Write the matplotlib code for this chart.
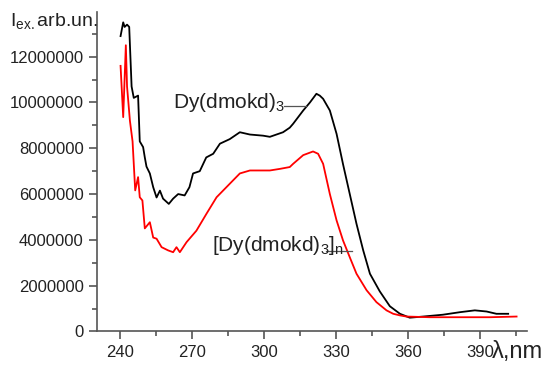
import matplotlib
matplotlib.use('Agg')
import matplotlib.pyplot as plt
from matplotlib.ticker import MultipleLocator

plt.rcParams['font.family'] = ['Liberation Sans', 'DejaVu Sans']
plt.rcParams['mathtext.default'] = 'regular'

# excitation spectra (nm, arb. units)
wl_mono = [240.3, 241.4, 242.0, 243.0, 243.9, 244.9, 245.8, 247.6, 248.3, 249.7,
           250.4, 251.1, 252.5, 253.9, 255.3, 256.7, 258.0, 260.4, 262.2, 264.3,
           267.0, 269.0, 270.5, 273.3, 276.0, 278.9, 281.7, 285.8, 290.0, 294.2,
           299.7, 302.5, 308.0, 310.8, 312.2, 316.4, 319.2, 321.9, 323.3, 324.7,
           327.5, 330.3, 333.0, 335.8, 338.6, 341.4, 344.2, 348.3, 352.5, 356.7,
           360.8, 366.4, 374.6, 381.7, 387.9, 392.8, 396.9, 401.8]
i_mono = [12.9, 13.5, 13.3, 13.4, 13.3, 10.7, 10.2, 10.3, 8.3, 8.05,
          7.6, 7.2, 6.9, 6.3, 5.85, 6.15, 5.8, 5.57, 5.8, 6.0,
          5.94, 6.3, 6.9, 7.0, 7.6, 7.76, 8.2, 8.4, 8.7, 8.6,
          8.55, 8.5, 8.7, 8.9, 9.07, 9.65, 10.0, 10.38, 10.3, 10.16,
          9.65, 8.63, 7.3, 6.0, 4.7, 3.54, 2.52, 1.75, 1.1, 0.77,
          0.6, 0.65, 0.73, 0.84, 0.92, 0.87, 0.77, 0.77]

wl_poly = [240.3, 241.4, 242.5, 243.0, 244.2, 245.3, 246.4, 247.6, 248.3, 249.4,
           250.4, 252.5, 253.9, 255.3, 257.4, 260.1, 262.2, 263.6, 265.0, 267.8,
           271.9, 276.1, 280.3, 285.8, 290.0, 294.2, 302.5, 306.7, 310.8, 312.2,
           316.4, 320.5, 322.6, 324.7, 327.5, 330.3, 333.0, 335.8, 338.6, 342.8,
           346.9, 351.1, 353.9, 356.7, 359.4, 369.2, 383.0, 394.2, 405.3]
i_poly = [11.6, 9.36, 12.5, 10.7, 9.2, 8.3, 6.16, 6.74, 5.86, 5.72,
          4.5, 4.77, 4.1, 4.05, 3.68, 3.54, 3.46, 3.68, 3.46, 3.9,
          4.4, 5.14, 5.86, 6.45, 6.9, 7.03, 7.03, 7.1, 7.18, 7.32,
          7.7, 7.86, 7.76, 7.32, 6.0, 4.85, 3.97, 3.24, 2.52, 1.8,
          1.28, 0.92, 0.77, 0.7, 0.65, 0.62, 0.62, 0.62, 0.65]

fig = plt.figure(figsize=(5.5, 3.65), dpi=100)
ax = fig.add_axes([0.176, 0.092, 0.782, 0.875])

ax.plot(wl_mono, [v * 1e6 for v in i_mono], color='black', lw=1.3)
ax.plot(wl_poly, [v * 1e6 for v in i_poly], color='red', lw=1.3)

ax.set_xlim(230.4, 409.6)
ax.set_ylim(0, 13.95e6)
ax.xaxis.set_major_locator(MultipleLocator(30))
ax.xaxis.set_minor_locator(MultipleLocator(15))
ax.yaxis.set_major_locator(MultipleLocator(2e6))
ax.yaxis.set_minor_locator(MultipleLocator(1e6))
ax.ticklabel_format(axis='y', style='plain', useOffset=False)

for s in ['top', 'right']:
    ax.spines[s].set_visible(False)
for s in ['left', 'bottom']:
    ax.spines[s].set_color('#555555')
    ax.spines[s].set_linewidth(1.2)
ax.tick_params(which='both', color='#555555', width=1.2, labelcolor='#222222', labelsize=12)
ax.tick_params(which='major', length=6)
ax.tick_params(which='minor', length=3.5)

# curve labels with leader lines
ax.text(308.5, 10.0e6, 'Dy(dmokd)$_3$', fontsize=15, ha='right', va='center', color='#222222')
ax.plot([308.5, 317.5], [9.83e6, 9.83e6], color='#555555', lw=0.9)
ax.text(333.5, 3.75e6, '[Dy(dmokd)$_3$]$_n$', fontsize=15, ha='right', va='center', color='#222222')
ax.plot([326.0, 336.7], [3.52e6, 3.52e6], color='#555555', lw=0.9)

fig.text(0.018, 0.942, 'I$_{ex.}$arb.un.', fontsize=14, color='#222222', va='center')
fig.text(0.895, 0.035, 'λ,nm', fontsize=17, color='#222222', va='center')

fig.savefig('out.png', dpi=100)
